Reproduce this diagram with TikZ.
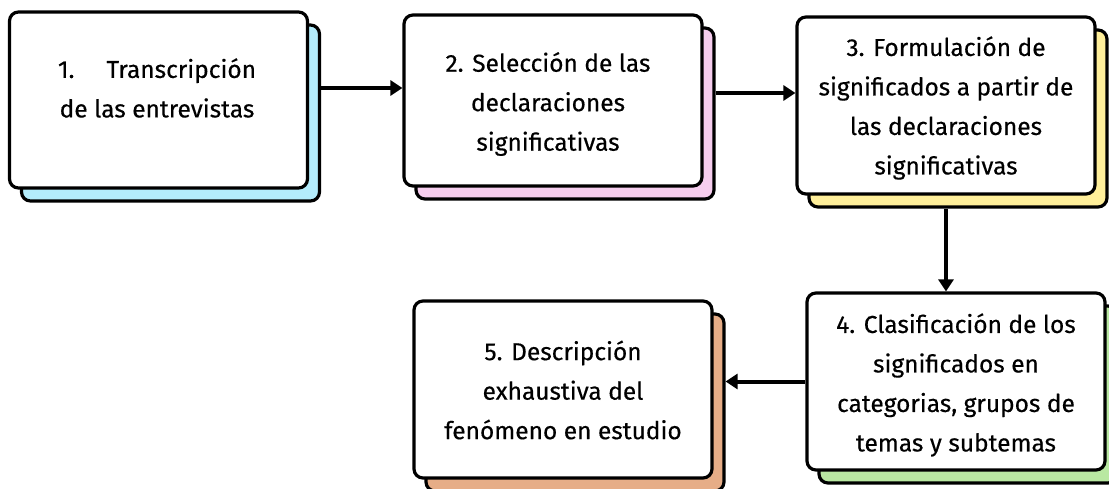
\documentclass[tikz,border=0pt]{standalone}
\usepackage{fontspec}
\setmainfont{Fira Sans}
\newfontfamily\handfont{Fira Sans}[FakeBold=0.4]
\usetikzlibrary{arrows.meta,calc}
\definecolor{cblue}{HTML}{B3ECFB}
\definecolor{cpink}{HTML}{F6CDEE}
\definecolor{cyellow}{HTML}{FFEF9A}
\definecolor{cgreen}{HTML}{B9E8A2}
\definecolor{corange}{HTML}{E6AD87}
\begin{document}
\begin{tikzpicture}[x=1pt,y=-1pt,
 back/.style={draw=black,line width=3.2pt,rounded corners=9pt,minimum width=298pt,minimum height=177pt,inner sep=0pt},
 front/.style={draw=black,fill=white,line width=3.2pt,rounded corners=9pt,minimum width=298pt,minimum height=177pt,inner sep=0pt},
 lbl/.style={align=center,font=\handfont\fontsize{24.5}{39.5}\selectfont,inner sep=0pt},
 conn/.style={line width=4pt,-{Triangle[length=12pt,width=15pt]}}]
\useasboundingbox (0,0) rectangle (1109,489);
% box 1
\node[back,fill=cblue,minimum height=176pt] (k1) at (170.5,113) {};
\node[front,minimum height=176pt] (b1) at (158.5,100) {};
\node[lbl] (t1) at (157,88) {1.\hspace{32pt}Transcripción\\de las entrevistas};
% box 2
\node[back,fill=cpink,minimum height=171pt] (k2) at (565,113.5) {};
\node[front,minimum height=171pt] (b2) at (553,100.5) {};
\node[lbl] (t2) at (548,104) {2. Selección de las\\declaraciones\\significativas};
% box 3
\node[back,fill=cyellow] (k3) at (958,118.5) {};
\node[front] (b3) at (946,105.5) {};
\node[lbl] (t3) at (946,108) {3. Formulación de\\significados a partir de\\las declaraciones\\significativas};
% box 4
\node[back,fill=cgreen] (k4) at (968,394.5) {};
\node[front] (b4) at (956,381.5) {};
\node[lbl] (t4) at (956,385) {4. Clasificación de los\\significados en\\categorias, grupos de\\temas y subtemas};
% box 5
\node[back,fill=corange] (k5) at (575,402.5) {};
\node[front] (b5) at (563,389.5) {};
\node[lbl] (t5) at (563,390) {5. Descripción\\exhaustiva del\\fenómeno en estudio};
% connectors
\draw[conn] (k1.east |- t1) -- (b2.west |- t1);
\coordinate (a2) at ([yshift=20.5pt]k2.east);
\draw[conn] (a2) -- (b3.west |- a2);
\draw[conn] (b3.south |- k3.south) -- (b3.south |- b4.north);
\draw[conn] (b4.west) -- (k5.east |- b4.west);
\end{tikzpicture}
\end{document}
